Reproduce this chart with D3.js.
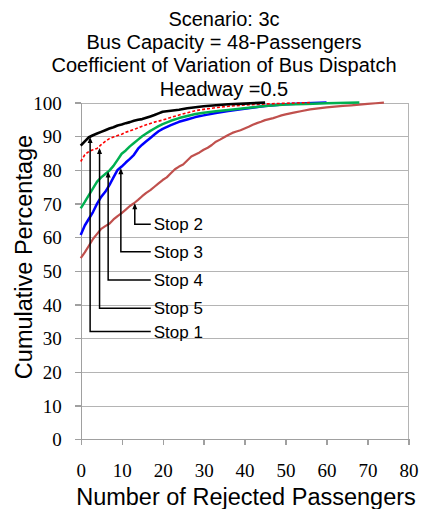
<!DOCTYPE html>
<meta charset="utf-8">
<style>
  body { margin: 0; background: #fff; }
  .axis path, .axis line { stroke: #a0a0a0; stroke-width: 1.3px; shape-rendering: crispEdges; }
  .grid line { stroke: #b4b4b4; stroke-width: 1.3px; shape-rendering: crispEdges; }
</style>
<body>
<div id="chart"></div>
<script src="https://cdn.jsdelivr.net/npm/d3@7"></script>
<script>
// title lines
var titleLines = ["Scenario: 3c", "Bus Capacity = 48-Passengers",
                  "Coefficient of Variation of Bus Dispatch", "Headway =0.5"];

// cumulative curves, [rejected passengers, cumulative %]
var stop1 = [[0,87.2],[1,88.5],[2,89.7],[3,90.3],[4,90.8],[5,91.3],[6,91.8],[7,92.3],[8,92.7],[9,93.2],
  [10,93.5],[11,93.9],[12,94.2],[13,94.6],[14,94.9],[15,95.1],[16,95.5],[17,95.9],[18,96.3],[19,96.8],
  [20,97.3],[22,97.6],[24,97.9],[26,98.3],[28,98.6],[30,98.9],[33,99.2],[36,99.5],[40,99.7],[45,100]];
var stop5 = [[0,82.5],[1,84.5],[2,85.5],[3,86],[4,86.4],[5,87.5],[6,88.5],[7,89.3],[8,89.8],[9,90.2],
  [10,90.6],[11,91.2],[12,91.6],[13,92.0],[14,92.5],[15,93.0],[16,93.4],[17,93.8],[18,94.2],[19,94.5],
  [20,94.8],[22,95.6],[24,96.3],[26,97.0],[28,97.6],[30,98.0],[33,98.5],[36,98.9],[40,99.3],[45,99.6],
  [50,99.8],[56,100]];
var stop4 = [[0,68.6],[1,70.5],[2,72.5],[3,74.5],[4,76.5],[5,77.8],[6,78.8],[7,79.8],[8,81.2],[9,83.0],
  [10,84.8],[11,85.8],[12,87.0],[13,88.0],[14,89.0],[15,90.0],[16,90.8],[17,91.6],[18,92.3],[19,93.0],
  [20,93.6],[22,94.6],[24,95.4],[26,96.0],[28,96.6],[30,97.0],[33,97.4],[36,97.8],[40,98.3],[45,99.0],
  [50,99.4],[55,99.6],[60,99.8],[68,100]];
var stop3 = [[0,60.7],[1,63.5],[2,65.5],[3,67.5],[4,70.0],[5,72.0],[6,73.5],[7,75.5],[8,77.8],[9,80.0],
  [10,81.0],[11,82.2],[12,83.3],[13,84.5],[14,86.3],[15,87.5],[16,88.5],[17,89.5],[18,90.5],[19,91.5],
  [20,92.2],[22,93.3],[24,94.3],[26,95.0],[28,95.7],[30,96.2],[33,96.9],[36,97.5],[40,98.2],[45,99.0],
  [50,99.5],[55,99.8],[60,100]];
var stop2 = [[0,53.8],[1,55.5],[2,57.5],[3,59.5],[4,61.0],[5,62.5],[6,63.3],[7,64.0],[8,65.3],[9,66.3],
  [10,67.2],[11,68.2],[12,69.3],[13,70.1],[14,71.1],[15,72.2],[16,73.2],[17,74.0],[18,75.0],[19,76.0],
  [20,77.0],[21,77.8],[22,79.0],[23,80.2],[24,81.0],[25,81.6],[26,82.8],[27,84.0],[28,84.6],[29,85.2],
  [30,86.0],[31,86.6],[32,87.4],[33,88.4],[34,89.0],[35,89.7],[36,90.4],[37,91.0],[38,91.4],[39,91.8],
  [40,92.3],[41,92.8],[42,93.4],[43,93.9],[44,94.3],[45,94.8],[46,95.1],[47,95.4],[48,95.8],[49,96.2],
  [50,96.5],[52,97.0],[54,97.5],[56,98.0],[58,98.3],[60,98.6],[62,98.8],[64,99.0],[66,99.2],[68,99.4],
  [70,99.6],[72,99.8],[74,100]];

// callouts: label, arrow tip (x, y), label level (y)
var noteLabels = ["Stop 2", "Stop 3", "Stop 4", "Stop 5", "Stop 1"];
var noteTipX   = [13.2, 9.8, 6.7, 4.6, 2.3];
var noteTipY   = [70.1, 80.5, 79.5, 86.5, 89.8];
var noteLevel  = [63.9, 55.7, 47.3, 38.9, 32.0];
var noteEndX   = 17.1;

var xTicks = [0,10,20,30,40,50,60,70,80];
var yTicks = [0,10,20,30,40,50,60,70,80,90,100];

var SANS = "'Liberation Sans', Arial, sans-serif";
var SERIF = "'Liberation Serif', 'Times New Roman', serif";

var W = 421, H = 509;
var x = d3.scaleLinear().domain([0, 80]).range([80.7, 408.5]);
var y = d3.scaleLinear().domain([0, 100]).range([439.3, 102.6]);

var svg = d3.select("#chart").append("svg").attr("width", W).attr("height", H);

// gridlines
svg.append("g").attr("class", "grid").selectAll("line")
  .data(yTicks.slice(1)).enter().append("line")
  .attr("x1", x(0)).attr("x2", x(80))
  .attr("y1", function(d){ return Math.round(y(d)) + 0.5; })
  .attr("y2", function(d){ return Math.round(y(d)) + 0.5; });
svg.append("g").attr("class", "grid").append("line")
  .attr("x1", x(80)).attr("x2", x(80)).attr("y1", y(100)).attr("y2", y(0));

// axes
var yAx = svg.append("g").attr("class", "axis")
  .attr("transform", "translate(" + x(0) + ",0)")
  .call(d3.axisLeft(y).tickValues(yTicks).tickSize(6).tickPadding(13).tickSizeOuter(0));
yAx.selectAll("text").attr("dy", "0.35em");
var xAx = svg.append("g").attr("class", "axis")
  .attr("transform", "translate(0," + y(0) + ")")
  .call(d3.axisBottom(x).tickValues(xTicks).tickSize(6).tickPadding(18).tickSizeOuter(0));
svg.selectAll(".axis text")
  .style("font-family", SERIF).style("font-size", "19px").style("fill", "#000");

// curves
var line = d3.line().x(function(d){ return x(d[0]); }).y(function(d){ return y(d[1]); });
var series = [
  {d: stop2, c: "#c0504d", w: 2.2, dash: null},
  {d: stop3, c: "#0000ff", w: 2.5, dash: null},
  {d: stop4, c: "#00b050", w: 2.5, dash: null},
  {d: stop5, c: "#ff0000", w: 1.6, dash: "3,2"},
  {d: stop1, c: "#000000", w: 2.6, dash: null}
];
svg.append("g").selectAll("path").data(series).enter().append("path")
  .attr("d", function(s){ return line(s.d); })
  .attr("fill", "none")
  .attr("stroke", function(s){ return s.c; })
  .attr("stroke-width", function(s){ return s.w; })
  .attr("stroke-dasharray", function(s){ return s.dash; })
  .attr("stroke-linejoin", "round");

// callouts
var notes = svg.append("g");
noteLabels.forEach(function(lab, i){
  var tx = x(noteTipX[i]), ty = y(noteTipY[i]), ly = y(noteLevel[i]), ex = x(noteEndX);
  notes.append("path")
    .attr("d", "M" + ex + "," + ly + "H" + tx + "V" + (ty + 2))
    .attr("fill", "none").attr("stroke", "#000").attr("stroke-width", 1.5);
  notes.append("path")
    .attr("d", "M" + tx + "," + ty + "L" + (tx - 2.5) + "," + (ty + 6) + "L" + (tx + 2.5) + "," + (ty + 6) + "Z")
    .attr("fill", "#000");
  notes.append("text")
    .attr("x", ex + 3).attr("y", ly).attr("dy", "0.35em")
    .style("font-family", SANS).style("font-size", "17px").text(lab);
});

// titles
svg.append("g").selectAll("text").data(titleLines).enter().append("text")
  .attr("x", 224)
  .attr("y", function(d, i){ return 26 + i * 23.2; })
  .attr("text-anchor", "middle")
  .style("font-family", SANS).style("font-size", "20px")
  .text(function(d){ return d; });

svg.append("text").attr("x", 246).attr("y", 505)
  .attr("text-anchor", "middle")
  .style("font-family", SANS).style("font-size", "23.5px")
  .text("Number of Rejected Passengers");
svg.append("text")
  .attr("transform", "translate(31.5,257) rotate(-90)")
  .attr("text-anchor", "middle")
  .style("font-family", SANS).style("font-size", "23.5px")
  .text("Cumulative Percentage");
</script>
</body>
